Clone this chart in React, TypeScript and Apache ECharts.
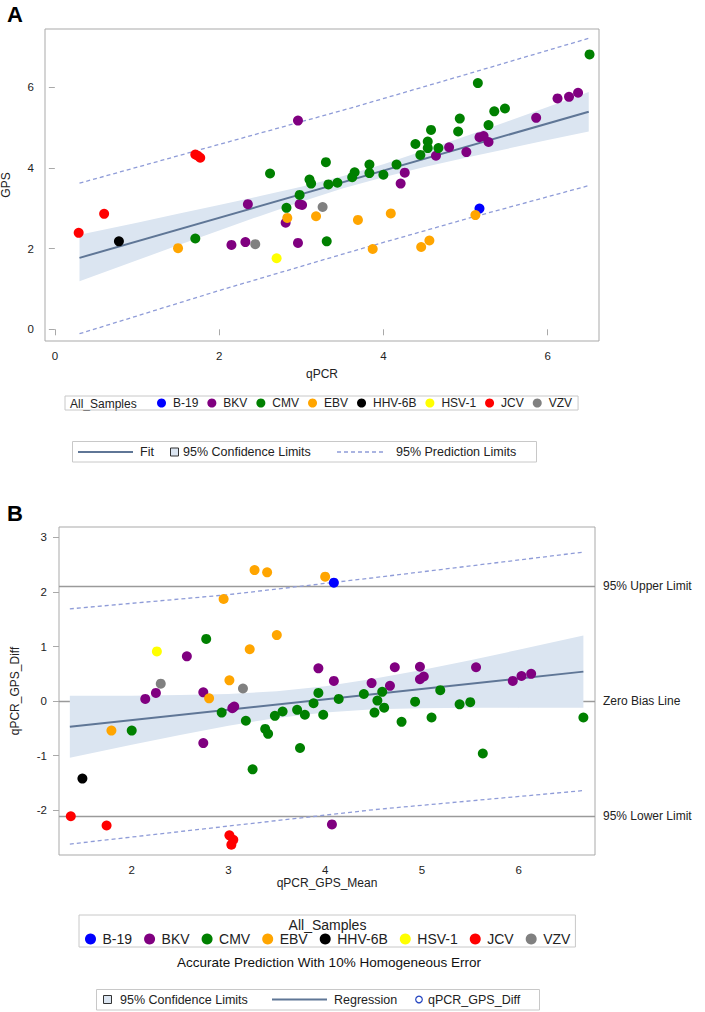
import React, { useEffect, useRef } from "react";
import * as echarts from "echarts";

const FONT = "'Liberation Sans', Arial, sans-serif";

const categories = ["B-19", "BKV", "CMV", "EBV", "HHV-6B", "HSV-1", "JCV", "VZV"];
const categoryColors = ["#0000ff", "#800080", "#008000", "#ffa500", "#000000", "#ffff00", "#ff0000", "#808080"];

// ---------- Panel A: [qPCR, GPS] ----------
const aB19 = [[5.17, 2.99]];
const aBKV = [[2.15, 2.09], [2.32, 2.16], [2.35, 3.10], [2.81, 2.64], [2.96, 5.17], [2.96, 2.14], [2.98, 3.10], [3.01, 3.08], [4.21, 3.61], [4.26, 3.88], [4.64, 4.30], [4.80, 4.51], [5.01, 4.39], [5.17, 4.76], [5.22, 4.79], [5.28, 4.64], [5.86, 5.24], [6.12, 5.72], [6.26, 5.76], [6.37, 5.86]];
const aCMV = [[1.71, 2.25], [2.62, 3.86], [2.82, 3.01], [2.98, 3.33], [3.10, 3.71], [3.12, 3.61], [3.30, 4.14], [3.31, 2.18], [3.33, 3.59], [3.44, 3.63], [3.62, 3.77], [3.65, 3.89], [3.83, 4.08], [3.83, 3.87], [4.00, 3.83], [4.16, 4.08], [4.39, 4.59], [4.45, 4.32], [4.54, 4.49], [4.54, 4.65], [4.58, 4.94], [4.67, 4.49], [4.91, 4.90], [4.93, 5.22], [5.15, 6.10], [5.28, 5.06], [5.35, 5.40], [5.48, 5.47], [6.51, 6.81]];
const aEBV = [[1.50, 2.01], [2.83, 2.76], [3.18, 2.80], [3.69, 2.71], [3.87, 1.99], [4.09, 2.87], [4.46, 2.04], [4.56, 2.20], [5.12, 2.83]];
const aHHV6B = [[0.78, 2.18]];
const aHSV1 = [[2.70, 1.76]];
const aJCV = [[0.29, 2.39], [0.60, 2.86], [1.71, 4.33], [1.77, 4.25], [1.74, 4.30]];
const aVZV = [[2.44, 2.11], [3.26, 3.03]];
const aPoints = [aB19, aBKV, aCMV, aEBV, aHHV6B, aHSV1, aJCV, aVZV];

const aFitX = [0.3, 6.5];
const aFitY = [1.77, 5.39];
const aBandX = [0.3, 1, 1.5, 2, 2.5, 3, 3.5, 4, 4.5, 5, 5.5, 6, 6.5];
const aBandLow = [1.19, 1.71, 2.08, 2.45, 2.81, 3.16, 3.49, 3.77, 4.02, 4.25, 4.47, 4.69, 4.90];
const aBandHigh = [2.34, 2.64, 2.86, 3.08, 3.30, 3.53, 3.79, 4.09, 4.43, 4.78, 5.14, 5.51, 5.88];
const aPredX = [0.3, 2, 3.6, 5, 6.5];
const aPredHigh = [3.62, 4.58, 5.48, 6.31, 7.21];
const aPredLow = [-0.11, 0.96, 1.92, 2.73, 3.56];
const aXTicks = [0, 2, 4, 6];
const aYTicks = [0, 2, 4, 6];

// ---------- Panel B: [qPCR_GPS_Mean, qPCR_GPS_Diff] ----------
const bB19 = [[4.09, 2.17]];
const bBKV = [[2.14, 0.04], [2.25, 0.15], [2.57, 0.82], [2.74, 0.16], [2.74, -0.77], [3.06, -0.10], [3.04, -0.13], [3.93, 0.60], [4.09, 0.37], [4.07, -2.26], [4.48, 0.33], [4.67, 0.28], [4.72, 0.62], [4.98, 0.63], [4.98, 0.40], [5.02, 0.45], [5.56, 0.62], [5.94, 0.37], [6.03, 0.46], [6.13, 0.50]];
const bCMV = [[2.00, -0.54], [2.77, 1.14], [2.93, -0.21], [3.18, -0.36], [3.25, -1.25], [3.38, -0.51], [3.41, -0.60], [3.48, -0.27], [3.56, -0.19], [3.71, -0.16], [3.74, -0.86], [3.79, -0.25], [3.88, -0.04], [3.93, 0.15], [3.98, -0.25], [4.14, 0.04], [4.40, 0.13], [4.51, -0.21], [4.54, 0.01], [4.59, 0.17], [4.61, -0.12], [4.79, -0.38], [4.93, -0.01], [5.10, -0.30], [5.19, 0.20], [5.39, -0.06], [5.50, -0.02], [5.63, -0.96], [6.67, -0.30]];
const bEBV = [[1.79, -0.54], [2.80, 0.05], [2.95, 1.87], [3.01, 0.38], [3.22, 0.95], [3.27, 2.40], [3.40, 2.36], [3.50, 1.21], [4.00, 2.28]];
const bHHV6B = [[1.49, -1.42]];
const bHSV1 = [[2.26, 0.91]];
const bJCV = [[1.37, -2.11], [1.74, -2.28], [3.01, -2.46], [3.05, -2.54], [3.03, -2.63]];
const bVZV = [[2.30, 0.32], [3.15, 0.23]];
const bPoints = [bB19, bBKV, bCMV, bEBV, bHHV6B, bHSV1, bJCV, bVZV];

const bRegX = [1.36, 6.67];
const bRegY = [-0.47, 0.54];
const bBandX = [1.36, 2, 2.5, 3, 3.5, 4, 4.5, 5, 5.5, 6, 6.67];
const bBandLow = [-1.04, -0.80, -0.62, -0.45, -0.31, -0.21, -0.15, -0.13, -0.12, -0.12, -0.12];
const bBandHigh = [0.10, 0.10, 0.11, 0.13, 0.18, 0.27, 0.41, 0.57, 0.75, 0.94, 1.20];
const bPredX = [1.36, 3, 4.5, 6.67];
const bPredHigh = [1.69, 1.95, 2.26, 2.73];
const bPredLow = [-2.62, -2.29, -1.99, -1.64];
const bLimitValues = [2.11, 0, -2.11];
const bLimitLabels = ["95% Upper Limit", "Zero Bias Line", "95% Lower Limit"];
const bXTicks = [2, 3, 4, 5, 6];
const bYTicks = [-2, -1, 0, 1, 2, 3];

const FIT_COLOR = "#5f7696";
const BAND_COLOR = "#dbe5f1";
const PRED_COLOR = "#8f9cd8";
const FRAME_COLOR = "#a9a9a9";

function zip(xs: number[], ys: number[]) {
  return xs.map((x, i) => [x, ys[i]]);
}

function bandSeries(xs: number[], lo: number[], hi: number[], idx: number) {
  return {
    type: "custom",
    xAxisIndex: idx,
    yAxisIndex: idx,
    silent: true,
    z: 1,
    data: [[xs[0], lo[0]]],
    renderItem: (_params: any, api: any) => {
      const pts: number[][] = [];
      for (let i = 0; i < xs.length; i++) pts.push(api.coord([xs[i], hi[i]]));
      for (let i = xs.length - 1; i >= 0; i--) pts.push(api.coord([xs[i], lo[i]]));
      return { type: "polygon", shape: { points: pts }, style: { fill: BAND_COLOR } };
    },
  };
}

function lineSeries(name: string, data: number[][], idx: number, color: string, width: number, dashed: boolean, extra: any = {}) {
  return {
    name,
    type: "line",
    xAxisIndex: idx,
    yAxisIndex: idx,
    data,
    symbol: "none",
    silent: true,
    z: 2,
    lineStyle: { color, width, type: dashed ? [4, 3] : "solid" },
    ...extra,
  };
}

function valueAxis(min: number, max: number, ticks: number[], idx: number, name: string, nameGap: number, margin: number) {
  return {
    type: "value",
    gridIndex: idx,
    min,
    max,
    name,
    nameLocation: "middle",
    nameGap,
    nameTextStyle: { fontFamily: FONT, fontSize: 12, color: "#222" },
    axisLine: { show: false },
    splitLine: { show: false },
    axisTick: { show: true, inside: false, length: 6, customValues: ticks, lineStyle: { color: FRAME_COLOR } },
    axisLabel: { show: true, customValues: ticks, margin, fontFamily: FONT, fontSize: 11.5, color: "#222" },
  };
}

export default function App() {
  const ref = useRef<HTMLDivElement>(null);
  useEffect(() => {
    if (!ref.current) return;
    const chart = echarts.init(ref.current, undefined, { renderer: "svg" });

    const series: any[] = [];
    series.push(bandSeries(aBandX, aBandLow, aBandHigh, 0));
    series.push(bandSeries(bBandX, bBandLow, bBandHigh, 1));
    series.push(lineSeries("Fit", zip(aFitX, aFitY), 0, FIT_COLOR, 2, false));
    series.push(lineSeries("Upper Prediction", zip(aPredX, aPredHigh), 0, PRED_COLOR, 1.3, true));
    series.push(lineSeries("Lower Prediction", zip(aPredX, aPredLow), 0, PRED_COLOR, 1.3, true));
    series.push(lineSeries("Regression", zip(bRegX, bRegY), 1, FIT_COLOR, 2, false, {
      markLine: {
        silent: true,
        symbol: "none",
        animation: false,
        lineStyle: { color: "#9a9a9a", width: 1.3, type: "solid" },
        label: { show: true, position: "end", distance: 8, fontFamily: FONT, fontSize: 12, color: "#222" },
        data: bLimitValues.map((v, i) => ({ yAxis: v, label: { formatter: bLimitLabels[i] } })),
        z: 1,
      },
    }));
    series.push(lineSeries("Upper B Prediction", zip(bPredX, bPredHigh), 1, PRED_COLOR, 1.3, true));
    series.push(lineSeries("Lower B Prediction", zip(bPredX, bPredLow), 1, PRED_COLOR, 1.3, true));
    categories.forEach((c, i) => {
      series.push({ name: c, type: "scatter", xAxisIndex: 0, yAxisIndex: 0, data: aPoints[i], symbolSize: 10, itemStyle: { color: categoryColors[i], opacity: 1 }, z: 5 });
      series.push({ name: c, type: "scatter", xAxisIndex: 1, yAxisIndex: 1, data: bPoints[i], symbolSize: 10, itemStyle: { color: categoryColors[i], opacity: 1 }, z: 5 });
    });

    const legendData = categories.map((c) => ({ name: c, icon: "circle" }));

    const graphic: any[] = [
      { type: "text", left: 7, top: 3, style: { text: "A", font: `bold 22px ${FONT}`, fill: "#000" } },
      { type: "text", left: 7, top: 502, style: { text: "B", font: `bold 22px ${FONT}`, fill: "#000" } },
      { type: "text", x: 70, y: 403.5, style: { text: "All_Samples", font: `12px ${FONT}`, fill: "#222", verticalAlign: "middle" } },
      { type: "text", x: 327.5, y: 924.5, style: { text: "All_Samples", font: `14px ${FONT}`, fill: "#222", align: "center", verticalAlign: "middle" } },
      { type: "text", x: 329, y: 962, style: { text: "Accurate Prediction With 10% Homogeneous Error", font: `13.5px ${FONT}`, fill: "#111", align: "center", verticalAlign: "middle" } },
      // Legend A2
      { type: "rect", shape: { x: 72.5, y: 441.5, width: 464, height: 20.5 }, style: { fill: "none", stroke: "#c8c8c8", lineWidth: 1 } },
      { type: "line", shape: { x1: 78, y1: 452, x2: 133, y2: 452 }, style: { stroke: FIT_COLOR, lineWidth: 2 } },
      { type: "text", x: 140, y: 452, style: { text: "Fit", font: `12.5px ${FONT}`, fill: "#222", verticalAlign: "middle" } },
      { type: "rect", shape: { x: 170.5, y: 448, width: 8, height: 8 }, style: { fill: BAND_COLOR, stroke: "#333", lineWidth: 1 } },
      { type: "text", x: 183, y: 452, style: { text: "95% Confidence Limits", font: `12.5px ${FONT}`, fill: "#222", verticalAlign: "middle" } },
      { type: "line", shape: { x1: 337, y1: 452, x2: 386, y2: 452 }, style: { stroke: PRED_COLOR, lineWidth: 1.3, lineDash: [4, 3] } },
      { type: "text", x: 396, y: 452, style: { text: "95% Prediction Limits", font: `12.5px ${FONT}`, fill: "#222", verticalAlign: "middle" } },
      // Legend B2
      { type: "rect", shape: { x: 96.5, y: 989.5, width: 443, height: 20.5 }, style: { fill: "none", stroke: "#c8c8c8", lineWidth: 1 } },
      { type: "rect", shape: { x: 103.5, y: 995.5, width: 8, height: 8 }, style: { fill: BAND_COLOR, stroke: "#333", lineWidth: 1 } },
      { type: "text", x: 120, y: 999.5, style: { text: "95% Confidence Limits", font: `12.5px ${FONT}`, fill: "#222", verticalAlign: "middle" } },
      { type: "line", shape: { x1: 272, y1: 999.5, x2: 327, y2: 999.5 }, style: { stroke: FIT_COLOR, lineWidth: 2 } },
      { type: "text", x: 334, y: 999.5, style: { text: "Regression", font: `12.5px ${FONT}`, fill: "#222", verticalAlign: "middle" } },
      { type: "circle", shape: { cx: 419, cy: 999.5, r: 3.3 }, style: { fill: "none", stroke: "#2545c0", lineWidth: 1.2 } },
      { type: "text", x: 428, y: 999.5, style: { text: "qPCR_GPS_Diff", font: `12.5px ${FONT}`, fill: "#222", verticalAlign: "middle" } },
    ];

    chart.setOption({
      animation: false,
      backgroundColor: "#fff",
      textStyle: { fontFamily: FONT },
      grid: [
        { left: 45, top: 29, width: 554, height: 312, show: true, borderColor: FRAME_COLOR, borderWidth: 1, backgroundColor: "transparent", containLabel: false, outerBoundsMode: "none" },
        { left: 59, top: 527, width: 536, height: 328, show: true, borderColor: FRAME_COLOR, borderWidth: 1, backgroundColor: "transparent", containLabel: false, outerBoundsMode: "none" },
      ],
      xAxis: [
        valueAxis(-0.12, 6.625, aXTicks, 0, "qPCR", 27, 9),
        valueAxis(1.248, 6.79, bXTicks, 1, "qPCR_GPS_Mean", 22, 9),
      ],
      yAxis: [
        valueAxis(-0.29, 7.44, aYTicks, 0, "GPS", 33, 11),
        valueAxis(-2.82, 3.19, bYTicks, 1, "qPCR_GPS_Diff", 38, 12),
      ],
      legend: [
        {
          left: 65,
          top: 396,
          orient: "horizontal",
          data: legendData,
          itemWidth: 13,
          itemHeight: 9,
          itemGap: 9,
          padding: [1, 6, 1, 92],
          borderColor: "#c8c8c8",
          borderWidth: 1,
          selectedMode: false,
          textStyle: { fontFamily: FONT, fontSize: 12, color: "#222", padding: 0 },
        },
        {
          left: 79,
          top: 915,
          orient: "horizontal",
          data: legendData,
          itemWidth: 14,
          itemHeight: 11,
          itemGap: 12,
          padding: [17, 5, 1, 6],
          borderColor: "#c8c8c8",
          borderWidth: 1,
          selectedMode: false,
          textStyle: { fontFamily: FONT, fontSize: 14, color: "#222" },
        },
      ],
      graphic,
      series,
    });
    return () => chart.dispose();
  }, []);
  return (
    <div style={{ position: "fixed", left: 0, top: 0, width: 705, height: 1012, background: "#fff" }}>
      <div ref={ref} style={{ width: 705, height: 1012 }} />
    </div>
  );
}
